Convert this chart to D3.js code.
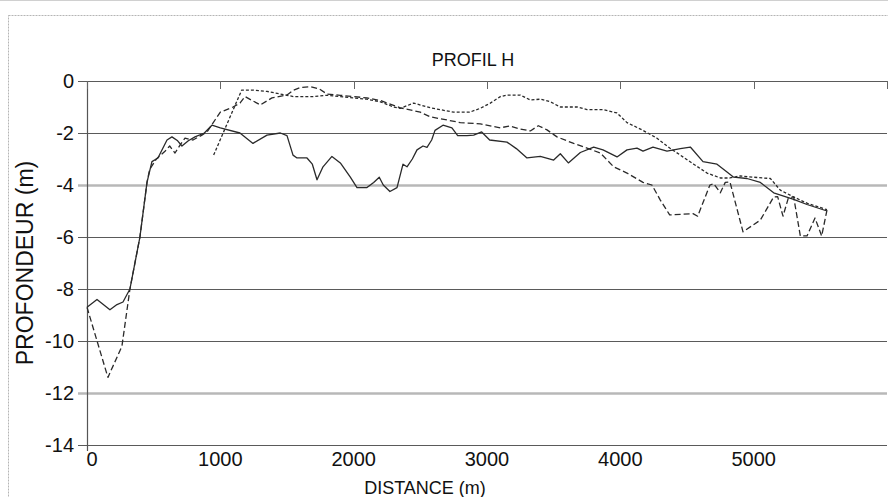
<!DOCTYPE html>
<html>
<head>
<meta charset="utf-8">
<script src="https://cdn.jsdelivr.net/npm/d3@7"></script>
<style>
  html, body { margin: 0; padding: 0; background: #fff; }
  svg { display: block; }
  text { font-family: "Liberation Sans", Arial, sans-serif; fill: #111; }
</style>
</head>
<body>
<svg id="chart" width="888" height="497"></svg>
<script>
// ---------- data ----------
const title = "PROFIL H";
const xTitle = "DISTANCE (m)";
const yTitle = "PROFONDEUR (m)";
const xTicks = [0, 1000, 2000, 3000, 4000, 5000, 6000];
const xTickLabels = ["0", "1000", "2000", "3000", "4000", "5000", ""];
const yTicks = [0, -2, -4, -6, -8, -10, -12, -14];

// Series A (long dashes)
const distA  = [0, 157, 262, 322, 397, 450, 470, 520, 585, 620, 660, 700, 735, 795, 862, 900, 960, 1000, 1095, 1147, 1185, 1300, 1387, 1500, 1550, 1600, 1680, 1740, 1800, 1900, 2000, 2100, 2200, 2350, 2500, 2575, 2700, 2800, 2950, 3100, 3170, 3250, 3325, 3385, 3450, 3525, 3650, 3750, 3850, 3950, 4050, 4170, 4237, 4300, 4370, 4545, 4580, 4672, 4700, 4750, 4787, 4822, 4920, 5050, 5150, 5180, 5220, 5260, 5300, 5350, 5400, 5460, 5510, 5550];
const depthA = [-8.7, -11.4, -10.2, -8.0, -6.0, -3.9, -3.4, -3.0, -2.7, -2.5, -2.77, -2.45, -2.2, -2.27, -2.08, -1.96, -1.5, -1.2, -1.0, -0.85, -0.6, -0.92, -0.65, -0.54, -0.35, -0.25, -0.22, -0.3, -0.5, -0.55, -0.6, -0.65, -0.75, -1.03, -1.2, -1.38, -1.5, -1.6, -1.65, -1.8, -1.73, -1.85, -1.92, -1.72, -1.88, -2.15, -2.4, -2.58, -2.77, -3.3, -3.54, -3.9, -4.0, -4.58, -5.15, -5.1, -5.2, -4.0, -3.95, -4.3, -3.9, -3.88, -5.8, -5.35, -4.46, -4.45, -5.2, -4.5, -4.46, -5.96, -5.96, -5.27, -5.96, -4.96];

// Series B (solid)
const distB  = [0, 75, 172, 225, 270, 322, 397, 450, 487, 532, 600, 637, 680, 712, 760, 810, 880, 937, 1000, 1147, 1245, 1350, 1450, 1500, 1545, 1575, 1650, 1690, 1725, 1770, 1837, 1900, 1975, 2025, 2100, 2150, 2192, 2222, 2272, 2325, 2370, 2400, 2440, 2475, 2520, 2550, 2585, 2610, 2670, 2737, 2780, 2850, 2900, 2960, 3020, 3150, 3220, 3300, 3400, 3500, 3550, 3610, 3700, 3800, 3870, 3975, 4050, 4125, 4170, 4245, 4350, 4450, 4525, 4620, 4725, 4800, 4850, 4950, 5050, 5150, 5300, 5400, 5550];
const depthB = [-8.7, -8.4, -8.8, -8.6, -8.5, -8.0, -6.0, -3.9, -3.1, -2.96, -2.27, -2.15, -2.3, -2.5, -2.3, -2.15, -2.0, -1.7, -1.8, -2.0, -2.4, -2.08, -2.0, -2.1, -2.85, -2.96, -2.96, -3.2, -3.8, -3.3, -2.9, -3.15, -3.7, -4.1, -4.1, -3.9, -3.7, -4.0, -4.25, -4.1, -3.2, -3.3, -3.0, -2.65, -2.5, -2.55, -2.27, -1.9, -1.7, -1.8, -2.1, -2.1, -2.08, -1.96, -2.27, -2.35, -2.6, -2.96, -2.9, -3.04, -2.8, -3.15, -2.75, -2.54, -2.65, -2.92, -2.65, -2.58, -2.7, -2.54, -2.7, -2.6, -2.54, -3.1, -3.2, -3.5, -3.7, -3.75, -3.9, -4.3, -4.55, -4.75, -5.0];

// Series C (short dashes)
const distC  = [950, 1000, 1080, 1160, 1250, 1350, 1450, 1550, 1700, 1800, 1900, 2000, 2100, 2200, 2300, 2350, 2450, 2575, 2750, 2870, 2950, 3025, 3100, 3150, 3250, 3325, 3400, 3475, 3550, 3675, 3750, 3870, 3975, 4050, 4170, 4275, 4370, 4450, 4550, 4650, 4750, 4822, 4900, 5000, 5125, 5200, 5300, 5400, 5550];
const depthC = [-2.85, -2.25, -1.3, -0.35, -0.35, -0.4, -0.5, -0.6, -0.6, -0.55, -0.6, -0.65, -0.7, -0.8, -1.0, -1.05, -0.85, -1.03, -1.2, -1.2, -1.05, -0.85, -0.6, -0.54, -0.54, -0.73, -0.7, -0.8, -1.0, -1.0, -1.1, -1.1, -1.23, -1.6, -1.9, -2.2, -2.58, -2.85, -3.2, -3.54, -3.73, -3.73, -3.65, -3.7, -3.75, -4.2, -4.46, -4.7, -4.95];

// ---------- drawing ----------
const svg = d3.select("#chart");
const mLeft = 87, mRight = 887, mTop = 81, mBottom = 445;
const x = d3.scaleLinear().domain([0, 6000]).range([mLeft, mRight]);
const y = d3.scaleLinear().domain([0, -14]).range([mTop, mBottom]);

// outer frame
svg.append("line").attr("x1", 0).attr("x2", 888).attr("y1", 0.5).attr("y2", 0.5)
  .attr("stroke", "#d0d0d0").attr("stroke-width", 1);
svg.append("rect").attr("x", 8.5).attr("y", 15.5).attr("width", 900).attr("height", 500)
  .attr("fill", "none").attr("stroke", "#b5b5b5").attr("stroke-width", 1).attr("stroke-dasharray", "2,1");

// horizontal gridlines
yTicks.forEach(v => {
  const light = (v === -4 || v === -12);
  svg.append("line")
    .attr("x1", mLeft - 9).attr("x2", mRight)
    .attr("y1", Math.round(y(v)) + 0.5).attr("y2", Math.round(y(v)) + 0.5)
    .attr("stroke", light ? "#b8b8b8" : "#5a5a5a")
    .attr("stroke-width", light ? 2.5 : 1.1);
});

// left axis line
svg.append("line").attr("x1", mLeft + 0.5).attr("x2", mLeft + 0.5)
  .attr("y1", mTop).attr("y2", mBottom + 6).attr("stroke", "#555").attr("stroke-width", 1.2);

// top ticks (inward)
xTicks.forEach(v => {
  svg.append("line").attr("x1", Math.round(x(v)) + 0.5).attr("x2", Math.round(x(v)) + 0.5)
    .attr("y1", mTop).attr("y2", mTop + 8).attr("stroke", "#666").attr("stroke-width", 1);
});

// y tick labels
svg.append("g").selectAll("text").data(yTicks).join("text")
  .attr("x", 74).attr("y", d => y(d)).attr("dy", "0.35em")
  .attr("text-anchor", "end").attr("font-size", 20)
  .text(d => String(d));

// x tick labels
svg.append("g").selectAll("text").data(xTicks).join("text")
  .attr("x", d => x(d) + (d === 0 ? 5 : 0)).attr("y", 466)
  .attr("text-anchor", "middle").attr("font-size", 20)
  .text((d, i) => xTickLabels[i]);

// titles
svg.append("text").attr("x", 473).attr("y", 66).attr("text-anchor", "middle")
  .attr("font-size", 18).text(title);
svg.append("text").attr("x", 425).attr("y", 494).attr("text-anchor", "middle")
  .attr("font-size", 18).text(xTitle);
svg.append("text").attr("transform", "translate(33,263) rotate(-90)")
  .attr("text-anchor", "middle").attr("font-size", 23).text(yTitle);

// series
const line = d3.line().x(d => x(d[0])).y(d => y(d[1]));
const series = [
  { dist: distB, depth: depthB, dash: null },
  { dist: distA, depth: depthA, dash: "6,3" },
  { dist: distC, depth: depthC, dash: "3,2" }
];
series.forEach(s => {
  svg.append("path")
    .attr("d", line(d3.zip(s.dist, s.depth)))
    .attr("fill", "none").attr("stroke", "#2a2a2a").attr("stroke-width", 1.3)
    .attr("stroke-linejoin", "round")
    .attr("stroke-dasharray", s.dash);
});
</script>
</body>
</html>
